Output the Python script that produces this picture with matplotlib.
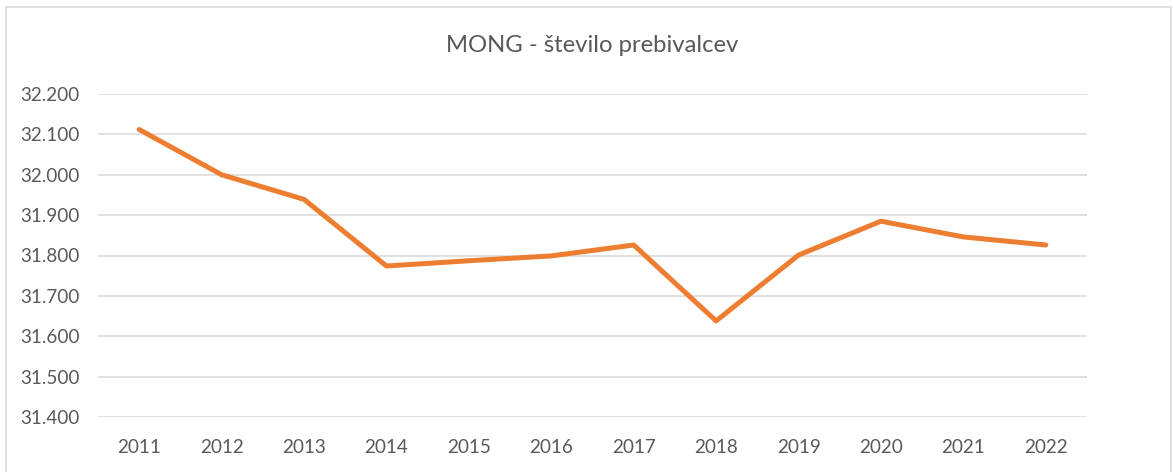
import matplotlib.pyplot as plt
from matplotlib.patches import Rectangle
from matplotlib.ticker import FuncFormatter

years = ["2011", "2012", "2013", "2014", "2015", "2016",
         "2017", "2018", "2019", "2020", "2021", "2022"]
prebivalci = [32112, 32000, 31939, 31774, 31787, 31799,
              31826, 31638, 31801, 31885, 31846, 31826]
y_ticks = [31400, 31500, 31600, 31700, 31800, 31900, 32000, 32100, 32200]

plt.rcParams['font.family'] = ['Lato', 'DejaVu Sans']
grey = '#595959'

fig = plt.figure(figsize=(11.73, 4.72), dpi=100)
ax = fig.add_axes([98 / 1173, 1 - 417 / 472, (1087 - 98) / 1173, (417 - 94) / 472])

x = list(range(len(years)))
ax.plot(x, prebivalci, color='#ed7d31', linewidth=3.6, solid_joinstyle='round',
        solid_capstyle='round', zorder=3)

ax.set_xlim(-0.5, len(years) - 0.5)
ax.set_ylim(31400, 32200)
ax.set_yticks(y_ticks)
ax.yaxis.set_major_formatter(FuncFormatter(lambda v, p: f"{v / 1000:.3f}"))
ax.set_xticks(x)
ax.set_xticklabels(years)
ax.grid(axis='y', color='#d9d9d9', linewidth=1.1)
ax.set_axisbelow(True)
for s in ax.spines.values():
    s.set_visible(False)
ax.tick_params(axis='both', length=0, labelsize=13.6, colors=grey)
ax.tick_params(axis='y', pad=13.5)
ax.tick_params(axis='x', pad=16)

fig.text(592 / 1173, 1 - 45 / 472, "MONG - število prebivalcev", ha='center',
         va='center', fontsize=17.2, color=grey)

fig.patches.append(Rectangle((6 / 1173, -0.01), (1171 - 6) / 1173, 1 - 7 / 472 + 0.01,
                             transform=fig.transFigure, fill=False,
                             edgecolor='#d9d9d9', linewidth=1.2))

fig.savefig('out.png', dpi=100)
